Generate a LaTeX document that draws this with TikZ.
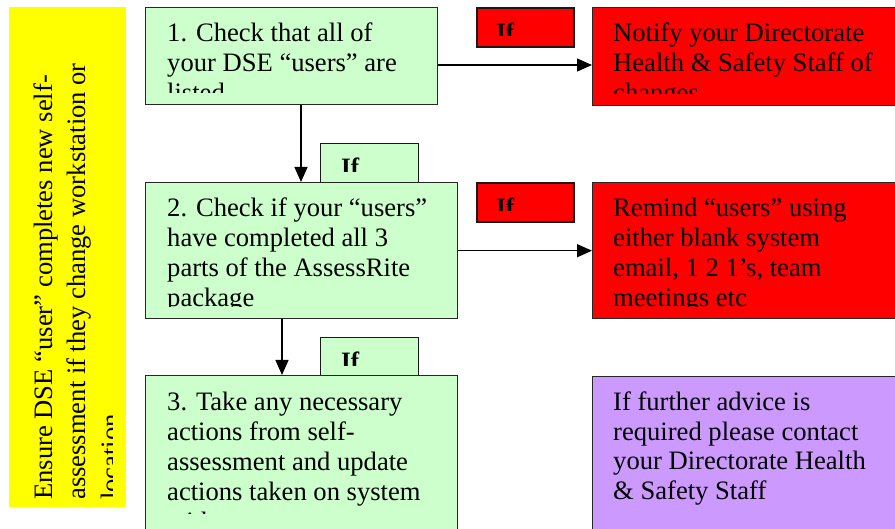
\documentclass[tikz,border=0pt]{standalone}
\usepackage{fontspec}
\setmainfont{Liberation Serif}
\usetikzlibrary{arrows.meta,calc}
\definecolor{boxgreen}{HTML}{CCFFCC}
\definecolor{boxred}{HTML}{FF0000}
\definecolor{boxyellow}{HTML}{FFFF00}
\definecolor{boxpurple}{HTML}{CC99FF}
\newcommand{\boxtext}[1]{\parbox[t]{600pt}{\fontsize{26.6pt}{30pt}\selectfont #1}}
\newcommand{\sidetext}[1]{\parbox[t]{600pt}{\fontsize{26.6pt}{33.5pt}\selectfont #1}}
\begin{document}
\begin{tikzpicture}[x=1pt,y=-1pt,
  panel/.style={draw=black!85, line width=1.4pt, anchor=north west, inner sep=0pt},
  ifbox/.style={draw=black!90, line width=2pt, anchor=north west, inner sep=0pt, minimum height=39pt},
  txt/.style={anchor=base west, inner sep=0pt},
  iftxt/.style={anchor=base west, inner sep=0pt, font=\fontsize{25pt}{28pt}\selectfont\bfseries},
  conn/.style={line width=1.3pt, -{Triangle[length=15pt,width=13pt]}}]
\useasboundingbox (0,0) rectangle (895,529);

% side yellow panel
\node[anchor=north west, inner sep=0pt, fill=boxyellow, minimum width=117pt, minimum height=500pt] (y1) at (9,7) {};
\begin{scope}
  \clip (y1.north west) rectangle (112,507);
  \node[txt, rotate=90] (ty1) at (52,500) {\sidetext{Ensure DSE “user” completes new self-\\assessment if they change workstation or\\location}};
\end{scope}

% small "If" boxes (green ones drawn first, under the main boxes)
\node[ifbox, fill=boxgreen, line width=1.4pt, minimum width=98pt] (ifg1) at (320,143) {};
\begin{scope}
  \clip (ifg1.north west) rectangle (418,172);
  \node[iftxt] (tifg1) at (341,176) {If};
\end{scope}
\node[ifbox, fill=boxgreen, line width=1.4pt, minimum width=98pt] (ifg2) at (320,337) {};
\begin{scope}
  \clip (ifg2.north west) rectangle (418,366);
  \node[iftxt] (tifg2) at (341,370) {If};
\end{scope}
\node[ifbox, fill=boxred, minimum width=97pt] (ifr1) at (476,7) {};
\begin{scope}
  \clip (ifr1.north west) rectangle (573,36);
  \node[iftxt] (tifr1) at (496,41) {If};
\end{scope}
\node[ifbox, fill=boxred, minimum width=97pt] (ifr2) at (476,182) {};
\begin{scope}
  \clip (ifr2.north west) rectangle (573,211);
  \node[iftxt] (tifr2) at (496,216) {If};
\end{scope}

% main green boxes
\node[panel, fill=boxgreen, minimum width=292pt, minimum height=97pt] (b1) at (145,7) {};
\begin{scope}
  \clip (b1.north west) rectangle (437,93);
  \node[txt] (tb1) at (167,42) {\boxtext{1. Check that all of\\your DSE “users” are\\listed}};
\end{scope}
\node[panel, fill=boxgreen, minimum width=312pt, minimum height=136pt] (b2) at (145,182) {};
\begin{scope}
  \clip (b2.north west) rectangle (457,307);
  \node[txt] (tb2) at (167,217) {\boxtext{2. Check if your “users”\\have completed all 3\\parts of the AssessRite\\package}};
\end{scope}
\node[panel, fill=boxgreen, minimum width=312pt, minimum height=160pt] (b3) at (145,375) {};
\begin{scope}
  \clip (b3.north west) rectangle (457,513);
  \node[txt] (tb3) at (167,411) {\boxtext{3. Take any necessary\\actions from self-\\assessment and update\\actions taken on system\\with}};
\end{scope}

% right boxes
\node[panel, fill=boxred, minimum width=310pt, minimum height=98pt] (r1) at (592,7) {};
\begin{scope}
  \clip (r1.north west) rectangle (902,94);
  \node[txt] (tr1) at (613,42) {\boxtext{Notify your Directorate\\Health \& Safety Staff of\\changes}};
\end{scope}
\node[panel, fill=boxred, minimum width=310pt, minimum height=136pt] (r2) at (592,182) {};
\begin{scope}
  \clip (r2.north west) rectangle (902,307);
  \node[txt] (tr2) at (613,217) {\boxtext{Remind “users” using\\either blank system\\email, 1 2 1’s, team\\meetings etc}};
\end{scope}
\node[panel, fill=boxpurple, minimum width=310pt, minimum height=160pt] (p1) at (592,376) {};
\node[txt] (tp1) at (613,410) {\boxtext{If further advice is\\required please contact\\your Directorate Health\\\& Safety Staff}};

% connectors
\coordinate (h1) at (0,65);
\coordinate (v1) at (301,0);
\coordinate (v2) at (282,0);
\draw[conn] (b1.east |- h1) -- (r1.west |- h1);
\draw[conn] (b2.east) -- (r2.west |- b2.east);
\draw[conn] (b1.south -| v1) -- (b2.north -| v1);
\draw[conn] (b2.south -| v2) -- (b3.north -| v2);
\end{tikzpicture}
\end{document}
